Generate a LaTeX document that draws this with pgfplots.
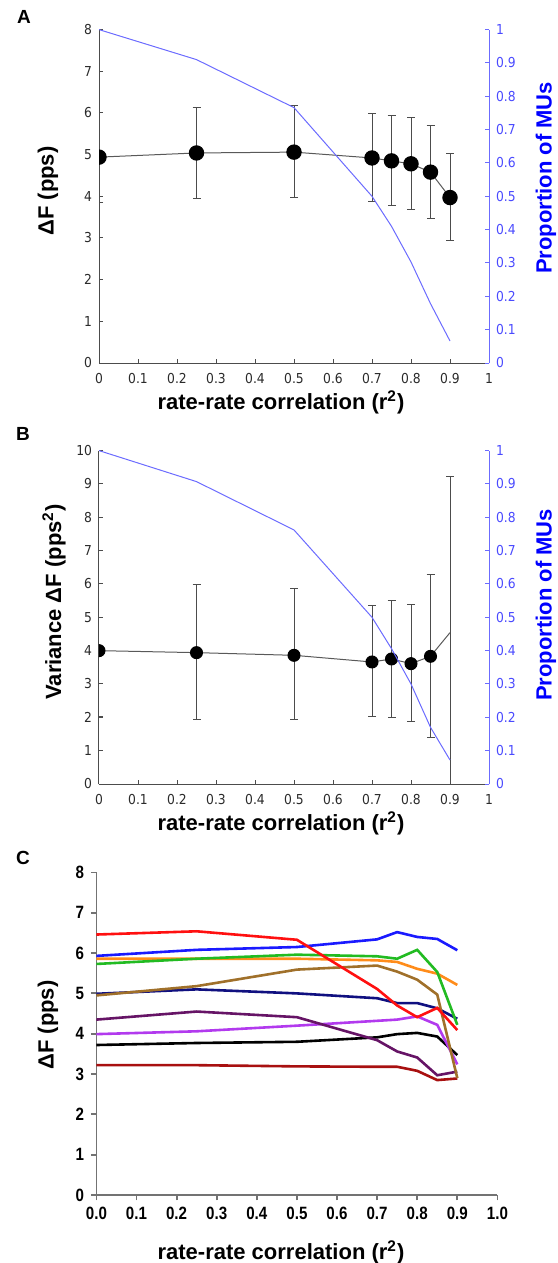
\documentclass[border=0pt]{standalone}
\usepackage{fontspec}
\setmainfont{Liberation Sans}
\newfontfamily\dejavu{DejaVu Sans Condensed}
\newfontfamily\narrow{Liberation Sans}[FakeStretch=0.85]
\usepackage{pgfplots}
\usepackage{pgfplotstable}
\pgfplotsset{compat=1.18}

\definecolor{mublue}{HTML}{6B6BFF}
\definecolor{axblue}{HTML}{4A4AFF}
\definecolor{labblue}{HTML}{0000FF}
\definecolor{ticgray}{HTML}{2A2A2A}
\definecolor{cred}{HTML}{FF1010}
\definecolor{cblue}{HTML}{1A1AFF}
\definecolor{corange}{HTML}{FF8C1A}
\definecolor{cgreen}{HTML}{22BB22}
\definecolor{cbrown}{HTML}{A0702A}
\definecolor{cnavy}{HTML}{101080}
\definecolor{cdpurple}{HTML}{661466}
\definecolor{cviolet}{HTML}{B23AEE}
\definecolor{cdred}{HTML}{A81010}

% panel A: mean delta F with SD, proportion of MUs
\pgfplotstableread{
x    y    ep   em   p
0    4.94 1.06 1.08 1.00
0.25 5.04 1.09 1.09 0.91
0.5  5.06 1.11 1.08 0.766
0.7  4.92 1.06 1.05 0.50
0.75 4.85 1.08 1.08 0.41
0.8  4.78 1.10 1.10 0.303
0.85 4.58 1.11 1.12 0.178
0.9  3.97 1.06 1.04 0.066
}\dfA

% panel B: variance of delta F
\pgfplotstableread{
x    y    ep   em   p
0    4.00 2.00 1.98 1.00
0.25 3.94 2.04 2.02 0.907
0.5  3.86 2.00 1.94 0.762
0.7  3.66 1.68 1.64 0.50
0.75 3.75 1.76 1.75 0.406
0.8  3.61 1.77 1.74 0.30
0.85 3.83 2.46 2.44 0.17
0.9  4.54 4.69 4.69 0.072
}\dfB

% panel C: individual delta F traces
\pgfplotstableread{
x    red  blue orange green brown navy dpurple violet black dred
0    6.46 5.93 5.86 5.73 4.95 4.99 4.35 3.99 3.72 3.22
0.25 6.54 6.08 5.86 5.86 5.18 5.10 4.55 4.06 3.77 3.22
0.5  6.33 6.15 5.86 5.96 5.59 5.00 4.41 4.20 3.80 3.19
0.7  5.11 6.34 5.82 5.92 5.69 4.88 3.84 4.32 3.91 3.18
0.75 4.70 6.52 5.78 5.86 5.54 4.76 3.56 4.35 3.99 3.18
0.8  4.41 6.40 5.61 6.08 5.34 4.76 3.41 4.43 4.02 3.08
0.85 4.64 6.35 5.49 5.53 4.97 4.63 2.97 4.22 3.93 2.85
0.9  4.09 6.07 5.21 4.22 2.90 4.37 3.06 3.24 3.47 2.89
}\dfC

\pgfplotsset{
  panelAB/.style={
    scale only axis, width=195pt, height=166.7pt,
    xmin=0, xmax=1,
    tick align=inside, major tick length=2pt,
    /pgf/number format/assume math mode=true,
    tick label style={font=\dejavu\fontsize{6.85}{7.5}\selectfont, text=ticgray},
    clip marker paths=true,
  },
  leftAB/.style={
    panelAB,
    axis x line*=bottom, axis y line*=left,
    axis line style={line width=0.5pt, black!70},
    tick style={line width=0.5pt, black!70},
    xtick={0,0.1,0.2,0.3,0.4,0.5,0.6,0.7,0.8,0.9,1},
    xticklabel style={yshift=-1.5pt},
  },
  rightAB/.style={
    panelAB,
    axis y line*=right, axis x line=none,
    ymin=0, ymax=1,
    ytick={0,0.1,0.2,0.3,0.4,0.5,0.6,0.7,0.8,0.9,1},
    y axis line style={line width=0.5pt, mublue},
    ytick style={line width=0.5pt, mublue},
    yticklabel style={text=axblue},
  },
  dfline/.style={
    black!65, line width=0.5pt,
    mark=*, mark options={fill=black, draw=black, solid},
    error bars/.cd, y dir=both, y explicit,
    error bar style={line width=0.5pt, black!70},
    error mark options={rotate=90, mark size=2pt, line width=0.5pt, black!70},
  },
}

\begin{document}
\begin{tikzpicture}
\useasboundingbox (0,0) rectangle (278.5pt,-631.5pt);

% ---------- A ----------
\begin{axis}[leftAB, at={(49.5pt,-181.5pt)}, anchor=south west,
  ymin=0, ymax=8, ytick={0,...,8}]
\addplot[mark size=3.6pt, dfline]
  table[x=x, y=y, y error plus=ep, y error minus=em]{\dfA};
\end{axis}
\begin{axis}[rightAB, at={(49.5pt,-181.5pt)}, anchor=south west]
\addplot[mublue, line width=0.5pt] table[x=x, y=p]{\dfA};
\end{axis}

% ---------- B ----------
\begin{axis}[leftAB, at={(49.5pt,-392pt)}, anchor=south west,
  ymin=0, ymax=10, ytick={0,...,10}]
\addplot[mark size=3pt, mark indices={1,2,3,4,5,6,7}, dfline]
  table[x=x, y=y, y error plus=ep, y error minus=em]{\dfB};
\end{axis}
\begin{axis}[rightAB, at={(49.5pt,-392pt)}, anchor=south west]
\addplot[mublue, line width=0.5pt] table[x=x, y=p]{\dfB};
\end{axis}

% ---------- C ----------
\begin{axis}[scale only axis, width=200.5pt, height=161.3pt,
  at={(48.2pt,-597.5pt)}, anchor=south west,
  xmin=0, xmax=1, ymin=0, ymax=8,
  axis x line*=bottom, axis y line*=left,
  axis line style={line width=0.9pt, black!55},
  tick style={line width=0.9pt, black!55},
  tick align=outside, major tick length=2.7pt,
  xtick={0,0.1,0.2,0.3,0.4,0.5,0.6,0.7,0.8,0.9,1},
  ytick={0,...,8},
  xticklabel style={/pgf/number format/.cd, fixed, fixed zerofill, precision=1},
  /pgf/number format/assume math mode=true,
  tick label style={font=\narrow\bfseries\fontsize{8.9}{10}\selectfont},
  every axis plot/.append style={line width=1.3pt},
  clip=false,
]
\addplot[cdred]    table[x=x, y=dred]{\dfC};
\addplot[black]    table[x=x, y=black]{\dfC};
\addplot[cviolet]  table[x=x, y=violet]{\dfC};
\addplot[cdpurple] table[x=x, y=dpurple]{\dfC};
\addplot[cnavy]    table[x=x, y=navy]{\dfC};
\addplot[cbrown]   table[x=x, y=brown]{\dfC};
\addplot[corange]  table[x=x, y=orange]{\dfC};
\addplot[cgreen]   table[x=x, y=green]{\dfC};
\addplot[cblue]    table[x=x, y=blue]{\dfC};
\addplot[cred]     table[x=x, y=red]{\dfC};
\end{axis}

% ---------- labels ----------
\tikzset{lab/.style={font=\bfseries\fontsize{11}{13}\selectfont},
         letter/.style={font=\bfseries\fontsize{9.5}{11}\selectfont}}
\node[letter] at (12pt,-8.5pt) {A};
\node[lab, rotate=90] at (24pt,-95.5pt) {ΔF (pps)};
\node[lab, rotate=90, text=labblue] at (273pt,-89pt) {Proportion of MUs};
\node[lab] at (140.5pt,-201pt) {rate-rate correlation (r\textsuperscript{2})};

\node[letter] at (11.5pt,-217pt) {B};
\node[lab, rotate=90] at (27pt,-301pt) {Variance ΔF (pps\textsuperscript{2})};
\node[lab, rotate=90, text=labblue] at (273pt,-302.5pt) {Proportion of MUs};
\node[lab] at (140.5pt,-411.5pt) {rate-rate correlation (r\textsuperscript{2})};

\node[letter] at (11.5pt,-429pt) {C};
\node[lab, rotate=90] at (24pt,-512.5pt) {ΔF (pps)};
\node[lab] at (140.5pt,-626pt) {rate-rate correlation (r\textsuperscript{2})};
\end{tikzpicture}
\end{document}
